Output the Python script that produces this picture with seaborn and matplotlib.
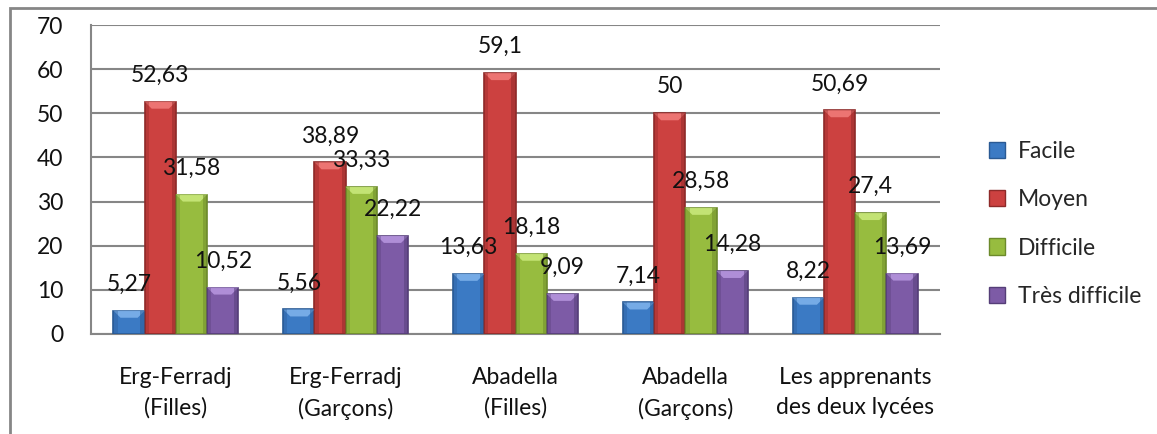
import numpy as np
import pandas as pd
import matplotlib
matplotlib.use("Agg")
import matplotlib.pyplot as plt
from matplotlib.patches import Rectangle, Polygon
import seaborn as sns

# Survey groups and difficulty levels (percentages)
groupes = ["Erg-Ferradj\n(Filles)", "Erg-Ferradj\n(Garçons)", "Abadella\n(Filles)",
           "Abadella\n(Garçons)", "Les apprenants\ndes deux lycées"]
niveaux = ["Facile", "Moyen", "Difficile", "Très difficile"]
facile = [5.27, 5.56, 13.63, 7.14, 8.22]
moyen = [52.63, 38.89, 59.1, 50, 50.69]
difficile = [31.58, 33.33, 18.18, 28.58, 27.4]
tres_difficile = [10.52, 22.22, 9.09, 14.28, 13.69]
y_ticks = [0, 10, 20, 30, 40, 50, 60, 70]

couleurs = ["#3B7AC4", "#CC4140", "#97BC3F", "#7D5BA6"]
bords = ["#2A5A94", "#8E2A29", "#6C8A2B", "#553E78"]
clairs = ["#7DB1EA", "#F07A78", "#C8E87A", "#B594DD"]

series = [facile, moyen, difficile, tres_difficile]
df = pd.DataFrame({
    "groupe": groupes * len(niveaux),
    "niveau": sum([[n] * len(groupes) for n in niveaux], []),
    "pct": sum(series, []),
})

sns.set_theme(style="white")
plt.rcParams["font.family"] = ["Lato", "DejaVu Sans"]
gris = "#868686"
fs = 16.5
txt_col = "#111111"

W, H, DPI = 1157, 434, 100
fig = plt.figure(figsize=(W / DPI, H / DPI), dpi=DPI)
ax = fig.add_axes([91 / W, 1 - 334 / H, (940 - 91) / W, (334 - 25) / H])

sns.barplot(data=df, x="groupe", y="pct", hue="niveau", order=groupes,
            hue_order=niveaux, palette=couleurs, saturation=1, width=0.735,
            gap=0, linewidth=0, ax=ax, zorder=3)
ax.get_legend().remove()

ax.set_ylim(0, 70)
ax.set_xlim(-0.5, len(groupes) - 0.5)
ax.set_yticks(y_ticks)
ax.set_yticklabels([str(t) for t in y_ticks], fontsize=fs, color=txt_col)
ax.set_xlabel("")
ax.set_ylabel("")
ax.set_xticks(range(len(groupes)))
ax.set_xticklabels(groupes, fontsize=fs, color=txt_col, linespacing=1.55)
ax.set_xticks(np.arange(-0.5, len(groupes)), minor=True)
ax.tick_params(axis="x", which="major", length=0, pad=23.5)
ax.tick_params(axis="x", which="minor", length=9, width=1.5, color=gris, direction="out")
ax.tick_params(axis="y", which="major", length=9, width=1.5, color=gris, direction="out", pad=11)
ax.yaxis.grid(True, color=gris, linewidth=1.5, zorder=0)
ax.set_axisbelow(True)
for s in ["top", "right"]:
    ax.spines[s].set_visible(False)
for s in ["left", "bottom"]:
    ax.spines[s].set_color(gris)
    ax.spines[s].set_linewidth(1.5)

fig.canvas.draw()
inv = ax.transData.inverted()
px_x = inv.transform((1, 0))[0] - inv.transform((0, 0))[0]
px_y = inv.transform((0, 1))[1] - inv.transform((0, 0))[1]
bev = 7

bars = [p for p in ax.patches if isinstance(p, Rectangle) and p.get_width() > 0][:len(groupes) * len(niveaux)]
for i, p in enumerate(bars):
    k = i // len(groupes)
    x0, w, h = p.get_x(), p.get_width(), p.get_height()
    p.set_edgecolor(bords[k])
    p.set_linewidth(1.2)
    bx, by = bev * px_x, bev * px_y
    # bevel highlight along the top of each bar
    top = Polygon([(x0, h), (x0 + w, h), (x0 + w - bx, h - by), (x0 + bx, h - by)],
                  closed=True, facecolor=clairs[k], edgecolor="none", zorder=4, alpha=0.9)
    ax.add_patch(top)
    # shading on the side faces
    ax.add_patch(Rectangle((x0, 0), bx * 0.6, h, facecolor=bords[k], alpha=0.35,
                           edgecolor="none", zorder=4))
    ax.add_patch(Rectangle((x0 + w - bx * 0.6, 0), bx * 0.6, h, facecolor=bords[k], alpha=0.5,
                           edgecolor="none", zorder=4))
    txt = f"{series[k][i % len(groupes)]:g}".replace(".", ",")
    ax.annotate(txt, (x0 + w / 2, h), xytext=(0, 19), textcoords="offset points",
                ha="center", va="center", fontsize=fs, color=txt_col, zorder=6)

handles = [Rectangle((0, 0), 1, 1, facecolor=c, edgecolor=b, linewidth=1)
           for c, b in zip(couleurs, bords)]
fig.legend(handles, niveaux, loc="center left", bbox_to_anchor=(980 / W, 1 - 224 / H),
           frameon=False, fontsize=fs, handlelength=0.7, handleheight=0.7,
           handletextpad=0.55, labelspacing=1.18, borderaxespad=0)

# outer chart frame
fig.add_artist(Rectangle((10 / W, -0.05), 1.1, 1.05 - 8 / H, transform=fig.transFigure,
                         facecolor="none", edgecolor=gris, linewidth=2))

fig.savefig("out.png", dpi=DPI)
